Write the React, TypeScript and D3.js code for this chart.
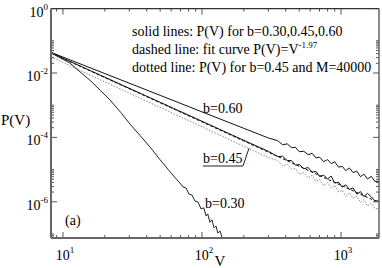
import React from "react";
import * as d3 from "d3";

// ---- data ----
const b060V = [8.2, 10, 20, 50, 100, 200, 300, 350, 380, 410, 440, 470, 500, 540, 580, 620, 660, 700, 750, 800, 850, 900, 960, 1020, 1080, 1150, 1220, 1300, 1380, 1460, 1550, 1650, 1750, 1875];
const b060P = [4.4e-2, 3.12e-2, 9.6e-3, 2.02e-3, 6.2e-4, 1.91e-4, 9.6e-5, 7.9e-5, 5.9e-5, 6.3e-5, 4.8e-5, 4.9e-5, 3.6e-5, 3.7e-5, 2.9e-5, 3.2e-5, 2.3e-5, 2.44e-5, 1.76e-5, 2.04e-5, 1.53e-5, 1.75e-5, 1.19e-5, 1.26e-5, 9.3e-6, 1.12e-5, 8.1e-6, 8.9e-6, 6.0e-6, 7.2e-6, 5.1e-6, 6.2e-6, 4.3e-6, 4.3e-6];

const b045V = [8.2, 10, 20, 50, 100, 200, 300, 350, 380, 410, 440, 470, 500, 540, 580, 620, 660, 700, 750, 800, 850, 900, 960, 1020, 1080, 1150, 1220, 1300, 1380, 1460, 1550, 1650, 1750, 1875];
const b045P = [4.27e-2, 2.89e-2, 7.4e-3, 1.23e-3, 3.17e-4, 8.1e-5, 3.69e-5, 2.54e-5, 2.6e-5, 1.91e-5, 1.91e-5, 1.36e-5, 1.45e-5, 1.06e-5, 1.16e-5, 8.3e-6, 8.8e-6, 6.1e-6, 6.7e-6, 5.15e-6, 6.3e-6, 3.82e-6, 4.05e-6, 2.84e-6, 3.37e-6, 2.41e-6, 2.71e-6, 1.73e-6, 2.07e-6, 1.45e-6, 1.82e-6, 1.43e-6, 1.08e-6, 1.06e-6];

const m40000V = [8.2, 10, 20, 50, 100, 200, 300, 350, 380, 410, 440, 470, 500, 540, 580, 620, 660, 700, 750, 800, 850, 900, 960, 1020, 1080, 1150, 1220, 1300, 1380, 1460, 1550, 1650, 1750, 1875];
const m40000P = [3.16e-2, 2.13e-2, 5.3e-3, 8.5e-4, 2.13e-4, 5.3e-5, 2.37e-5, 1.91e-5, 1.31e-5, 1.45e-5, 1.03e-5, 1.08e-5, 7.2e-6, 8.0e-6, 5.5e-6, 6.7e-6, 4.35e-6, 4.99e-6, 3.15e-6, 3.91e-6, 2.69e-6, 3.24e-6, 2.01e-6, 2.29e-6, 1.49e-6, 1.89e-6, 1.28e-6, 1.51e-6, 9.5e-7, 1.15e-6, 7.4e-7, 9.2e-7, 6.2e-7, 6.05e-7];

const fitV = [8.2, 1875];
const fitP = [4.17e-2, 9.4e-7];

const b030V = [8.2, 9.5, 11.2, 13, 15.6, 18.5, 21.8, 26, 30.3, 36, 42.3, 50, 58, 66, 69.5, 73, 76.7, 80.5, 84.7, 89, 93.6, 98.4, 103, 107, 110, 114, 118, 122, 126, 130, 135, 139];
const b030P = [4.2e-2, 3.0e-2, 2.04e-2, 1.17e-2, 6.0e-3, 2.95e-3, 1.45e-3, 6.0e-4, 2.6e-4, 1.12e-4, 5.0e-5, 2.0e-5, 9.3e-6, 4.8e-6, 3.8e-6, 2.9e-6, 2.7e-6, 1.74e-6, 1.62e-6, 1.05e-6, 9.8e-7, 6.0e-7, 6.5e-7, 3.6e-7, 4.2e-7, 2.3e-7, 2.75e-7, 1.55e-7, 1.78e-7, 1.07e-7, 1.23e-7, 8.1e-8];

const xMajorTicks = [10, 100, 1000];
const xTickExps = ["1", "2", "3"];
const yMajorTicks = [1, 1e-2, 1e-4, 1e-6];
const yTickExps = ["0", "-2", "-4", "-6"];

const legendLines = [
  "solid lines: P(V) for b=0.30,0.45,0.60",
  "dashed line: fit curve P(V)=V",
  "dotted line: P(V) for b=0.45 and M=40000",
];
const fitExponent = "-1.97";

const W = 382;
const H = 268;
const L = 51, R = 379, T = 8.6, B = 238;

export default function App() {
  const x = d3.scaleLog().domain([8.2, 1875]).range([L, R]);
  const y = d3.scaleLog().domain([7.5e-8, 1]).range([B, T]);

  const line = (vs: number[], ps: number[]) =>
    d3.line<number>()
      .x((_, i) => x(vs[i]))
      .y((_, i) => y(ps[i]))(ps) as string;

  // minor ticks
  const xMinor: number[] = [];
  for (let e = 0; e <= 3; e++) {
    for (let k = 2; k <= 9; k++) {
      const v = k * Math.pow(10, e);
      if (v >= 8.2 && v <= 1875) xMinor.push(v);
    }
  }
  const yMinor: number[] = [];
  for (let e = -8; e <= -2; e += 2) {
    for (let k = 2; k <= 10; k++) {
      const v = k * Math.pow(10, e);
      if (v >= 7.5e-8 && v <= 1) yMinor.push(v);
    }
  }

  const font = "'Liberation Serif', 'Times New Roman', serif";
  const ax = "#555";

  return (
    <svg width={W} height={H} style={{ position: "absolute", left: 0, top: 0, background: "#fff" }} fontFamily={font}>
      <rect x={0} y={0} width={W} height={H} fill="#fff" />
      {/* curves */}
      <g fill="none">
        <path d={line(m40000V, m40000P)} stroke="#8a8a8a" strokeWidth={1} strokeDasharray="1.5,1.5" />
        <path d={line(fitV, fitP)} stroke="#111" strokeWidth={1} strokeDasharray="3,2" />
        <path d={line(b045V, b045P)} stroke="#111" strokeWidth={1} />
        <path d={line(b060V, b060P)} stroke="#111" strokeWidth={1} />
        <path d={line(b030V, b030P)} stroke="#222" strokeWidth={1} />
      </g>

      {/* ticks */}
      <g stroke={ax} strokeWidth={1}>
        {xMajorTicks.map((v) => (
          <g key={"xM" + v}>
            <line x1={x(v)} x2={x(v)} y1={B} y2={B - 6} />
            <line x1={x(v)} x2={x(v)} y1={T} y2={T + 6} />
          </g>
        ))}
        {xMinor.map((v) => (
          <g key={"xm" + v}>
            <line x1={x(v)} x2={x(v)} y1={B} y2={B - 3} />
            <line x1={x(v)} x2={x(v)} y1={T} y2={T + 3} />
          </g>
        ))}
        {yMajorTicks.map((v) => (
          <g key={"yM" + v}>
            <line x1={L} x2={L + 6} y1={y(v)} y2={y(v)} />
            <line x1={R} x2={R - 6} y1={y(v)} y2={y(v)} />
          </g>
        ))}
        {yMinor.map((v) => (
          <g key={"ym" + v}>
            <line x1={L} x2={L + 3} y1={y(v)} y2={y(v)} />
            <line x1={R} x2={R - 3} y1={y(v)} y2={y(v)} />
          </g>
        ))}
      </g>

      {/* frame */}
      <line x1={L} x2={R} y1={T} y2={T} stroke="#333" strokeWidth={1.2} />
      <line x1={R} x2={R} y1={T} y2={B} stroke="#666" strokeWidth={1.5} />
      <line x1={L} x2={L} y1={T} y2={B} stroke="#666" strokeWidth={2} />
      <line x1={L} x2={R} y1={B} y2={B} stroke="#666" strokeWidth={2} />

      {/* tick labels */}
      <g fontSize={14} fill="#000">
        {yMajorTicks.map((v, i) => (
          <text key={"yl" + v} x={48} y={y(v) + 8} textAnchor="end">
            <tspan>10</tspan>
            <tspan dy={-7} fontSize={9}>{yTickExps[i]}</tspan>
          </text>
        ))}
        {xMajorTicks.map((v, i) => (
          <text key={"xl" + v} x={x(v) + 2} y={260} textAnchor="middle">
            <tspan>10</tspan>
            <tspan dy={-7} fontSize={9}>{xTickExps[i]}</tspan>
          </text>
        ))}
      </g>

      {/* axis titles */}
      <text x={1} y={125} fontSize={15}>P(V)</text>
      <text x={220} y={266} fontSize={15} textAnchor="middle">V</text>

      {/* legend text */}
      <g fontSize={14} fill="#000">
        <text x={132} y={36}>{legendLines[0]}</text>
        <text x={132} y={54}>
          <tspan>{legendLines[1]}</tspan>
          <tspan dy={-6} fontSize={9}>{fitExponent}</tspan>
        </text>
        <text x={132} y={72}>{legendLines[2]}</text>
      </g>

      {/* curve labels */}
      <g fontSize={14} fill="#000">
        <text x={203} y={113}>b=0.60</text>
        <text x={203} y={163}>b=0.45</text>
        <text x={205} y={208}>b=0.30</text>
        <text x={65} y={225}>(a)</text>
      </g>
      <polyline points={`203,166 243,166 249,${y(4.6e-5)}`} fill="none" stroke="#222" strokeWidth={1} />
    </svg>
  );
}
